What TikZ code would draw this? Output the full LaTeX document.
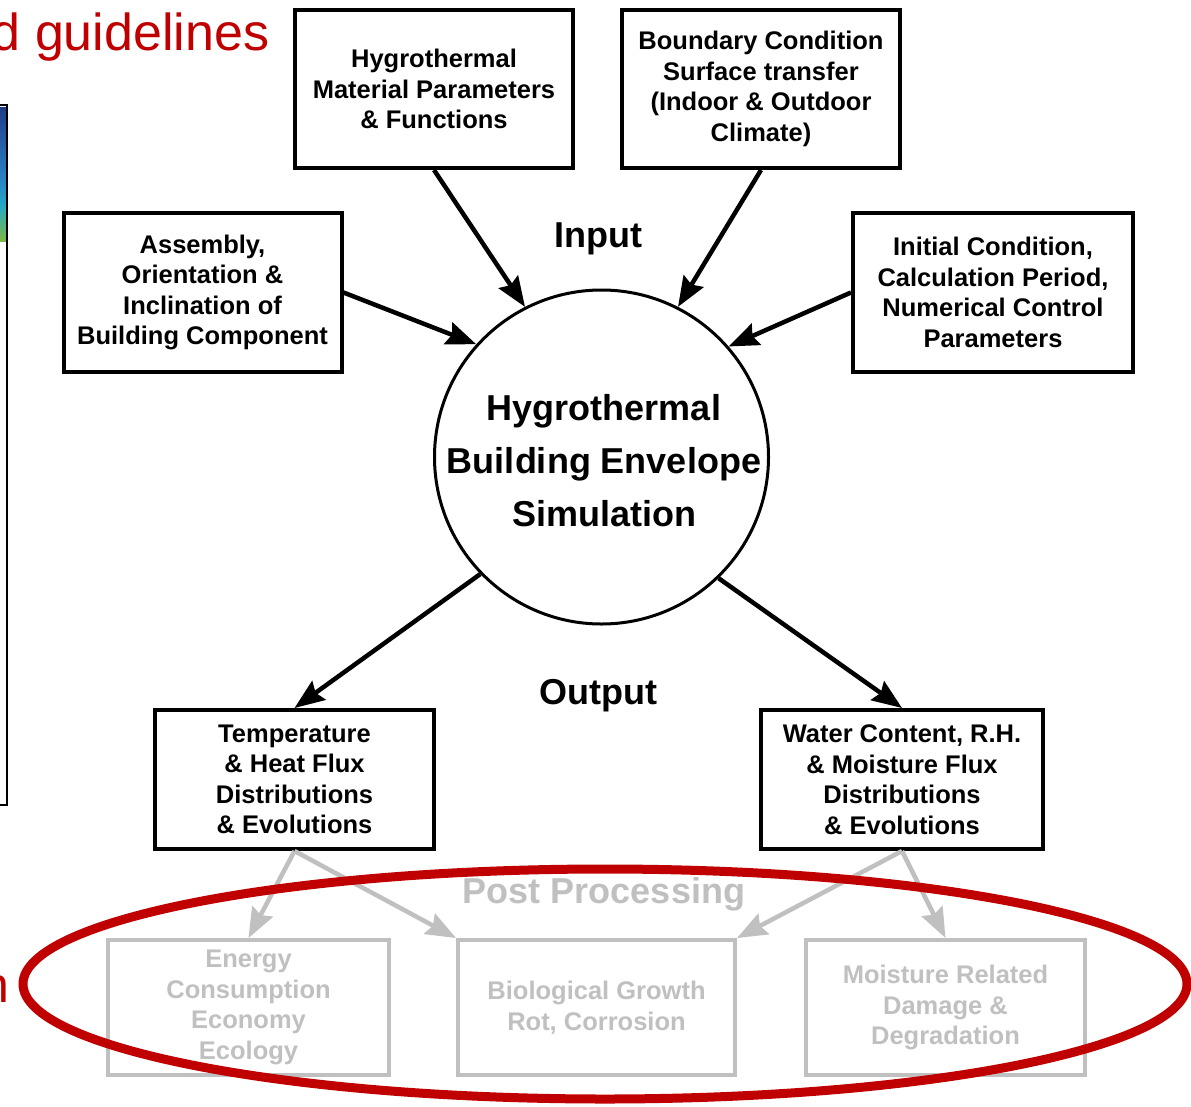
\documentclass[tikz,border=0pt]{standalone}
\usepackage{fontspec}
\setmainfont{Liberation Sans}
\usetikzlibrary{arrows.meta}
\definecolor{redc}{HTML}{C00000}
\definecolor{grayc}{HTML}{C0C0C0}
\definecolor{gA}{HTML}{1F3C88}
\definecolor{gB}{HTML}{2A7DC0}
\definecolor{gC}{HTML}{23A9C8}
\definecolor{gD}{HTML}{7DB843}
\begin{document}
\begin{tikzpicture}[x=1pt,y=-1pt,
  box/.style={draw=black, line width=4, inner sep=0, align=center,
    font=\bfseries\fontsize{25.5}{30.5}\selectfont, fill=white},
  gbox/.style={box, draw=grayc, text=grayc},
  big/.style={inner sep=0, font=\bfseries\fontsize{36}{53}\selectfont, align=center},
  arr/.style={line width=4.5, -{Stealth[length=30,width=23,inset=4]}},
  garr/.style={arr, draw=grayc},
]
\clip (0,0) rectangle (1191,1106);
\fill[white] (0,0) rectangle (1191,1106);

% left partial panel
\shade[top color=gA, bottom color=gB] (0,107) rectangle (6,175);
\shade[top color=gB, bottom color=gC] (0,175) rectangle (6,205);
\shade[top color=gC, bottom color=gD] (0,205) rectangle (6,241);
\draw[line width=2.5] (-10,105) rectangle (7,805);

% red slide texts
\node[anchor=base east, inner sep=0, text=redc, font=\fontsize{52}{60}\selectfont] (title) at (269.5,50) {d guidelines};
\node[anchor=base east, inner sep=0, text=redc, font=\fontsize{50}{60}\selectfont] (leftn) at (9.5,1002) {n};

% input boxes
\node[box, minimum width=278, minimum height=158] (b1) at (434,89) {Hygrothermal\\Material Parameters\\\& Functions};
\node[box, minimum width=278, minimum height=158] (b2) at (761,89) {Boundary Condition\\Surface transfer\\(Indoor \& Outdoor\\Climate)};
\node[box, minimum width=278, minimum height=159] (b3) at (202.5,292.5) {Assembly,\\Orientation \&\\Inclination of\\Building Component};
\node[box, minimum width=280, minimum height=159] (b4) at (993,292.5) {Initial Condition,\\Calculation Period,\\Numerical Control\\Parameters};

% central simulation
\node[circle, draw=black, line width=3, minimum size=334, inner sep=0] (sim) at (601.5,457) {};
\node[big] (simtext) at (604,461) {Hygrothermal\\Building Envelope\\Simulation};

\node[big, anchor=base] (input) at (598,247) {Input};
\node[big, anchor=base] (output) at (598,704) {Output};

% output boxes
\node[box, minimum width=279, minimum height=139] (b5) at (294.5,779.5) {Temperature\\\& Heat Flux\\Distributions\\\& Evolutions};
\node[box, minimum width=282, minimum height=139] (b6) at (902,779.5) {Water Content, R.H.\\\& Moisture Flux\\Distributions\\\& Evolutions};

% post processing
\node[big, anchor=base, text=grayc] (post) at (604,903) {Post Processing};
\node[gbox, minimum width=281, minimum height=135] (b7) at (248.5,1007.5) {Energy\\Consumption\\Economy\\Ecology};
\node[gbox, minimum width=277, minimum height=135] (b8) at (596.5,1007.5) {Biological Growth\\Rot, Corrosion};
\node[gbox, minimum width=279, minimum height=135] (b9) at (945.5,1007.5) {Moisture Related\\Damage \&\\Degradation};

% arrows
\draw[arr] (b1.south) -- (sim.117);
\draw[arr] (b2.south) -- (sim.63);
\draw[arr] (b3.east) -- (sim.138);
\draw[arr] (b4.west) -- (sim.41);
\draw[arr] (sim.224) -- (b5.north);
\draw[arr] (sim.-46) -- (b6.north);

\draw[garr] (b5.south) -- (b7.north);
\draw[garr] (b5.south) -- (b8.north west);
\draw[garr] (b6.south) -- (b8.north east);
\draw[garr] (b6.south) -- (b9.north);

% red highlight ellipse
\draw[redc, line width=9] (605,984) ellipse [x radius=582, y radius=115];
\end{tikzpicture}
\end{document}
